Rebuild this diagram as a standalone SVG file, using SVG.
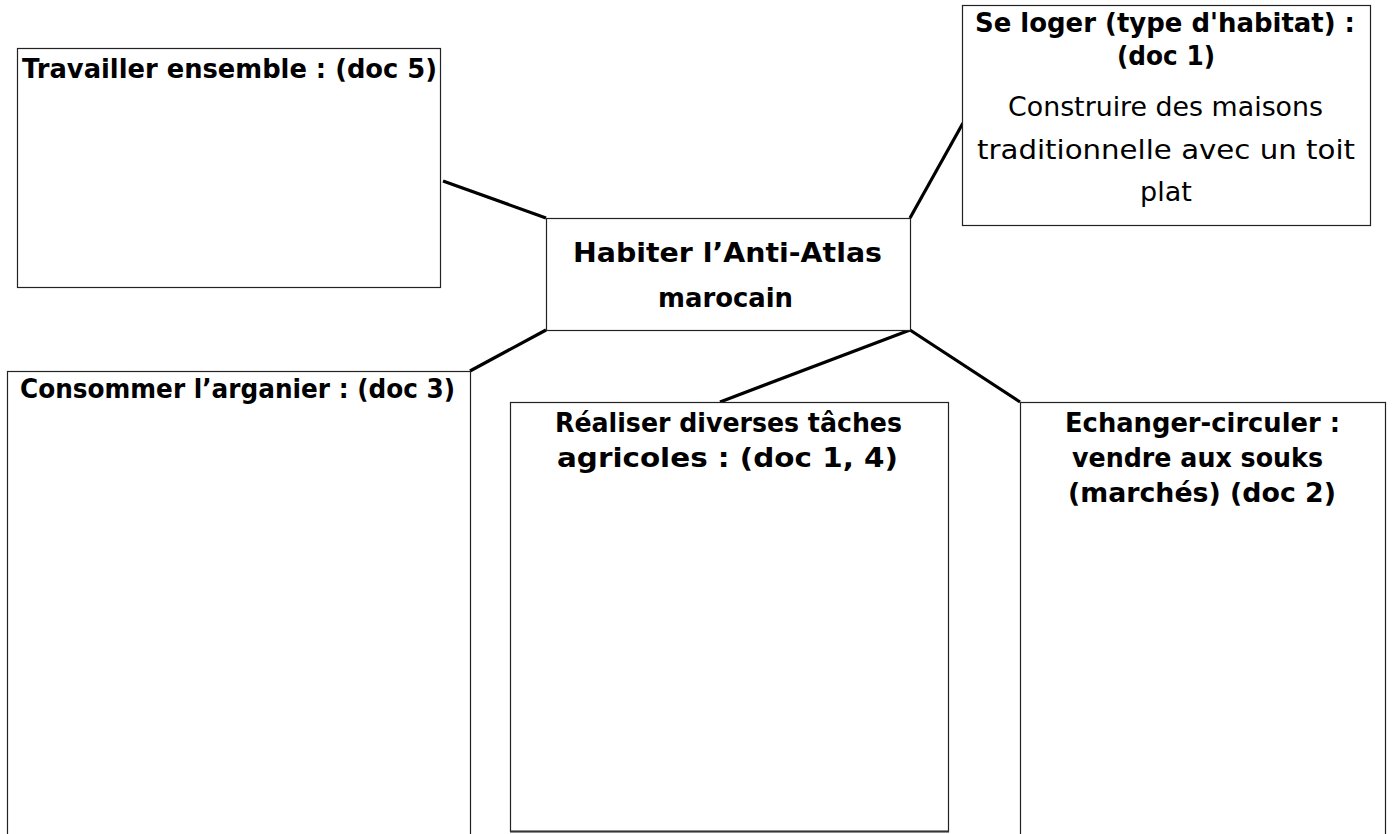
<svg xmlns="http://www.w3.org/2000/svg" width="1393" height="834" viewBox="0 0 1393 834">
<style>
.box{fill:#fff;stroke:#222;stroke-width:1.2}
.b{font-family:"DejaVu Sans","Liberation Sans",sans-serif;font-weight:bold;font-size:26px;fill:#000}
.r{font-family:"DejaVu Sans","Liberation Sans",sans-serif;font-size:27px;fill:#000}
.m{text-anchor:middle}
.con line{stroke:#000;stroke-width:3.2;stroke-linecap:butt}
</style>
<rect width="1393" height="834" fill="#fff"/>
<g class="con" id="connectors">
<line x1="443" y1="181" x2="546" y2="218"/>
<line x1="963" y1="123" x2="910" y2="218"/>
<line x1="546" y1="330" x2="470" y2="371"/>
<line x1="910" y1="330" x2="720" y2="402"/>
<line x1="910" y1="330" x2="1020" y2="402"/>
</g>
<g id="travailler">
<rect class="box" x="17.5" y="48.5" width="423" height="239"/>
<text class="b" x="22" y="78" textLength="415" lengthAdjust="spacingAndGlyphs">Travailler ensemble : (doc 5)</text>
</g>
<g id="seloger">
<rect class="box" x="962.5" y="5.5" width="408" height="220"/>
<text class="b" x="975" y="32" textLength="380" lengthAdjust="spacingAndGlyphs">Se loger (type d'habitat) :</text>
<text class="b m" x="1166" y="65" textLength="98" lengthAdjust="spacingAndGlyphs">(doc 1)</text>
<text class="r" x="1008" y="116" textLength="315" lengthAdjust="spacingAndGlyphs">Construire des maisons</text>
<text class="r" x="977" y="159" textLength="378" lengthAdjust="spacingAndGlyphs">traditionnelle avec un toit</text>
<text class="r m" x="1166" y="201">plat</text>
</g>
<g id="centre">
<rect class="box" x="546.5" y="218.5" width="364" height="112"/>
<text class="b" x="573" y="262" textLength="309" lengthAdjust="spacingAndGlyphs">Habiter l’Anti-Atlas</text>
<text class="b" x="658" y="307" textLength="135" lengthAdjust="spacingAndGlyphs">marocain</text>
</g>
<g id="consommer">
<rect class="box" x="7.5" y="371.5" width="463" height="480"/>
<text class="b" x="20" y="398" textLength="435" lengthAdjust="spacingAndGlyphs">Consommer l’arganier : (doc 3)</text>
</g>
<g id="realiser">
<rect class="box" x="510.5" y="402.5" width="438" height="429"/>
<line x1="510" y1="831.5" x2="949" y2="831.5" stroke="#333" stroke-width="2"/>
<text class="b" x="555" y="432" textLength="347" lengthAdjust="spacingAndGlyphs">Réaliser diverses tâches</text>
<text class="b" x="557" y="467" textLength="341" lengthAdjust="spacingAndGlyphs">agricoles : (doc 1, 4)</text>
</g>
<g id="echanger">
<rect class="box" x="1020.5" y="402.5" width="365" height="450"/>
<text class="b" x="1065" y="432" textLength="275" lengthAdjust="spacingAndGlyphs">Echanger-circuler :</text>
<text class="b" x="1072" y="467" textLength="251" lengthAdjust="spacingAndGlyphs">vendre aux souks</text>
<text class="b m" x="1202" y="502" textLength="268" lengthAdjust="spacingAndGlyphs">(marchés) (doc 2)</text>
</g>
</svg>
